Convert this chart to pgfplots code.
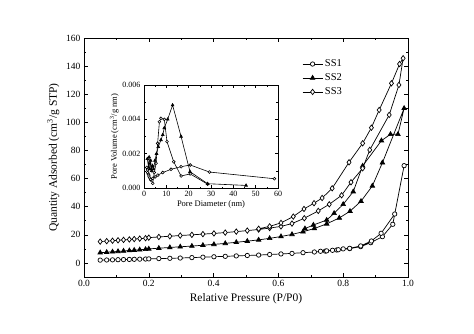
\documentclass[border=0pt]{standalone}
\usepackage{fontspec}
\setmainfont{Liberation Serif}
\usepackage{pgfplots}
\pgfplotsset{compat=1.18}
\begin{document}
\begin{tikzpicture}
\path[use as bounding box] (0,0) rectangle (474pt,333pt);
\begin{axis}[
 at={(84pt,56pt)}, anchor=south west, scale only axis, width=324pt, height=239pt,
 xmin=0, xmax=1, ymin=-10, ymax=160,
 xtick={0,0.2,0.4,0.6,0.8,1}, minor x tick num=1,
 ytick={0,20,40,60,80,100,120,140,160}, minor y tick num=1,
 tick align=inside, tick pos=both,
 major tick length=4pt, minor tick length=2pt,
 axis line style={line width=0.8pt},
 every tick/.style={black, line width=0.6pt},
 /pgf/number format/assume math mode=true,
 xticklabel style={/pgf/number format/.cd,fixed,fixed zerofill,precision=1},
 tick label style={font=\fontsize{9.5}{10}\selectfont},
 label style={font=\fontsize{11.5}{13}\selectfont},
 xlabel={Relative Pressure (P/P0)},
 ylabel={Quantity Adsorbed (cm\textsuperscript{3}/g STP)},
 legend style={at={(0.673,0.918)}, anchor=north west, draw=none, fill=none, font=\fontsize{10.5}{12}\selectfont, row sep=1.5pt, inner sep=0pt},
 legend cell align=left,
 legend image code/.code={\draw[mark repeat=2,mark phase=2] plot coordinates {(0pt,0pt)(10pt,0pt)(20pt,0pt)};},
]
\addplot[black, line width=0.7pt, mark=*, mark size=2.2pt, mark options={fill=white, solid}] coordinates {
(0.050,2.0)(0.070,2.1)(0.088,2.2)(0.105,2.3)(0.122,2.4)(0.140,2.5)(0.155,2.6)(0.172,2.7)(0.190,2.8)(0.200,2.9)(0.231,3.1)(0.265,3.3)(0.297,3.5)(0.333,3.8)(0.367,4.1)(0.401,4.4)(0.436,4.7)(0.470,5.0)(0.504,5.3)(0.539,5.6)(0.573,6.0)(0.608,6.4)(0.642,6.8)(0.676,7.3)(0.711,7.8)(0.745,8.4)(0.780,9.2)(0.820,10.2)(0.854,11.6)(0.885,14.4)(0.921,18.7)(0.953,27.5)(0.988,69.2)
(0.959,34.8)(0.917,21.1)(0.887,15.6)(0.854,12.1)(0.820,10.4)(0.800,10.0)(0.785,9.4)(0.767,9.0)(0.749,8.6)(0.730,8.3)
};
\addlegendentry{SS1}
\addplot[black, line width=0.7pt, mark=triangle*, mark size=2.6pt, mark options={fill=black, solid}] coordinates {
(0.050,7.3)(0.070,7.6)(0.088,7.9)(0.105,8.2)(0.122,8.5)(0.140,8.8)(0.155,9.1)(0.172,9.4)(0.190,9.7)(0.200,10.0)(0.231,10.5)(0.265,11.0)(0.297,11.5)(0.333,12.0)(0.367,12.6)(0.401,13.2)(0.436,13.9)(0.470,14.7)(0.504,15.5)(0.539,16.4)(0.573,17.5)(0.608,18.8)(0.642,20.3)(0.676,22.2)(0.711,24.5)(0.749,27.8)(0.788,32.0)(0.821,36.8)(0.855,43.9)(0.890,54.8)(0.921,71.3)(0.988,110.0)
(0.969,91.5)(0.946,91.5)(0.918,87.0)(0.860,69.0)(0.831,50.7)(0.800,41.7)(0.772,35.3)(0.749,30.5)(0.708,27.0)(0.682,24.4)
};
\addlegendentry{SS2}
\addplot[black, line width=0.7pt, mark=diamond*, mark size=2.7pt, mark options={fill=white, solid}] coordinates {
(0.050,15.2)(0.070,15.5)(0.088,15.8)(0.105,16.1)(0.122,16.4)(0.140,16.7)(0.155,17.0)(0.172,17.3)(0.190,17.6)(0.200,18.0)(0.231,18.5)(0.265,19.0)(0.297,19.5)(0.333,20.0)(0.367,20.5)(0.401,21.0)(0.436,21.6)(0.470,22.3)(0.504,23.0)(0.539,23.8)(0.573,24.8)(0.608,26.0)(0.642,28.0)(0.680,31.8)(0.723,37.0)(0.757,41.7)(0.795,48.1)(0.824,57.4)(0.860,67.3)(0.882,80.4)(0.942,105.3)(0.972,126.6)(0.985,145.6)
(0.974,141.5)(0.949,127.8)(0.911,108.8)(0.887,96.2)(0.860,85.1)(0.818,71.6)(0.766,53.1)(0.735,46.2)(0.710,42.5)(0.679,38.4)(0.646,33.0)(0.608,28.5)(0.573,26.0)(0.539,24.3)
};
\addlegendentry{SS3}
\end{axis}
\begin{axis}[
 at={(144pt,145pt)}, anchor=south west, scale only axis, width=134pt, height=103pt,
 xmin=0, xmax=60, ymin=0, ymax=0.006,
 xtick={0,10,20,30,40,50,60}, minor x tick num=1,
 ytick={0,0.002,0.004,0.006}, minor y tick num=1,
 scaled y ticks=false,
 tick align=inside, tick pos=both,
 major tick length=3pt, minor tick length=1.5pt,
 axis line style={line width=0.7pt},
 every tick/.style={black, line width=0.5pt},
 axis background/.style={fill=white},
 /pgf/number format/assume math mode=true,
 yticklabel style={/pgf/number format/.cd,fixed,fixed zerofill,precision=3},
 tick label style={font=\fontsize{8}{8.5}\selectfont},
 label style={font=\fontsize{8.5}{9}\selectfont},
 xlabel={Pore Diameter (nm)},
 ylabel={Pore Volume (cm\textsuperscript{3}/g nm)},
 xlabel style={yshift=3pt},
 ylabel style={yshift=-3pt},
]
\addplot[black, line width=0.6pt, mark=*, mark size=1.4pt, mark options={fill=white, solid}] coordinates {
(1.6,0.00105)(2.0,0.0008)(2.5,0.0006)(3.1,0.00047)(3.9,0.00027)(4.6,0.0009)(5.4,0.00144)(6.1,0.0026)(6.9,0.00386)(7.6,0.00406)(9.1,0.0040)(10.3,0.0027)(13.3,0.00153)(16.6,0.0007)(20.7,0.00082)(28.5,0.00022)
};
\addplot[black, line width=0.6pt, mark=triangle*, mark size=1.6pt, mark options={fill=black, solid}] coordinates {
(1.5,0.0017)(2.0,0.0012)(2.3,0.0018)(2.6,0.0011)(3.0,0.0016)(3.4,0.0010)(3.8,0.0013)(4.3,0.0011)(4.9,0.0016)(5.6,0.0020)(6.4,0.0024)(7.6,0.0028)(8.4,0.0031)(9.1,0.0035)(10.6,0.0040)(12.8,0.00483)(16.6,0.0030)(20.6,0.00095)(28.5,0.00025)(45.7,0.00015)
};
\addplot[black, line width=0.6pt, mark=*, mark size=1.4pt, mark options={fill=white, solid}] coordinates {
(1.2,0.0012)(1.6,0.0009)(2.2,0.0007)(3.0,0.0005)(3.9,0.00056)(5.0,0.00065)(6.2,0.00075)(8.4,0.0009)(12.1,0.00109)(16.6,0.00124)(20.7,0.00134)(29.3,0.00093)(58.4,0.00054)
};
\end{axis}
\end{tikzpicture}
\end{document}
